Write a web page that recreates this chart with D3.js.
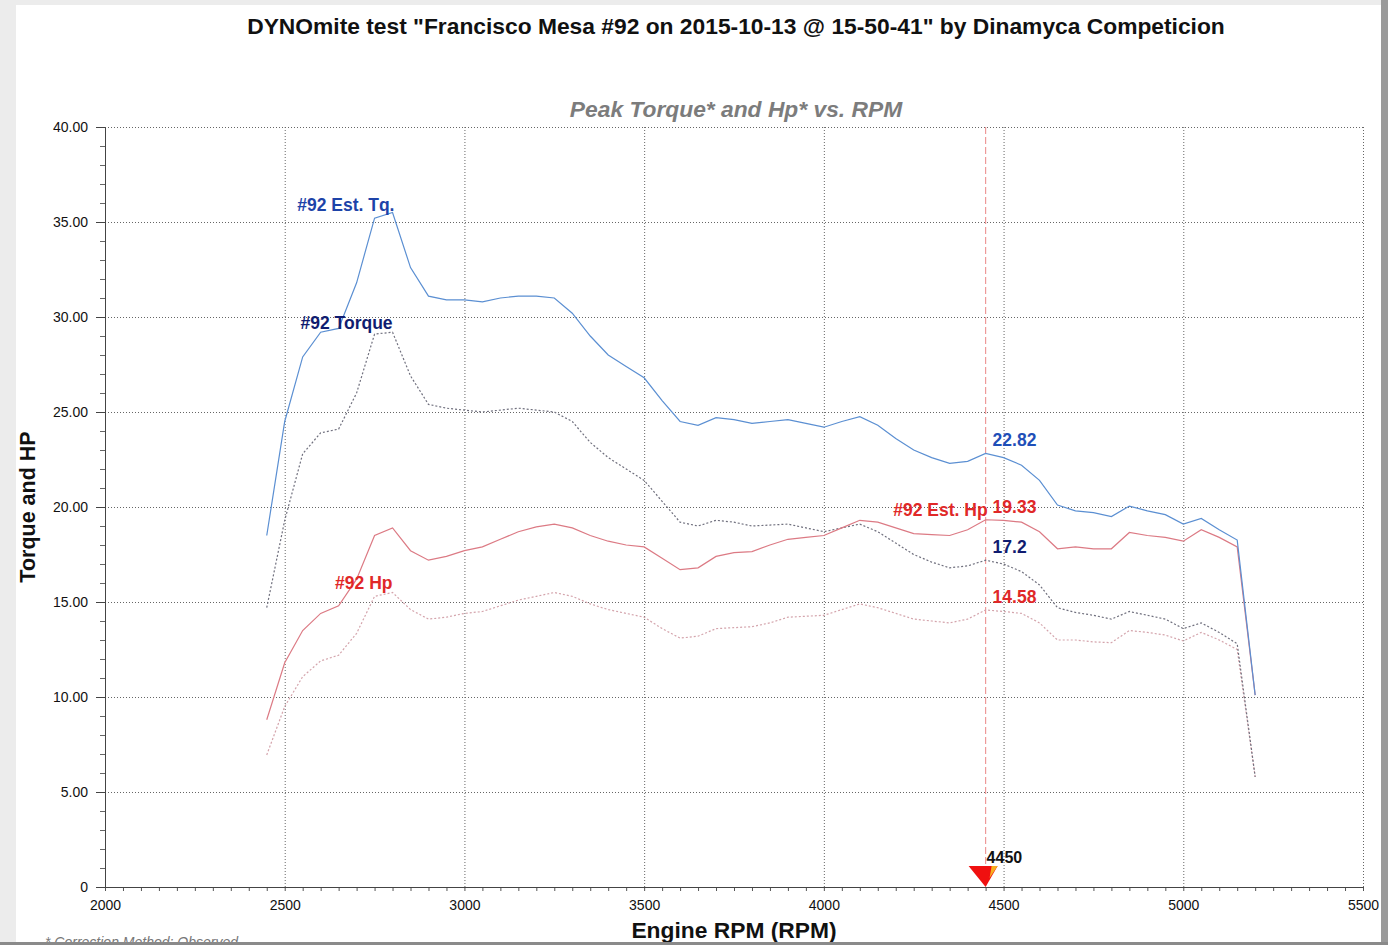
<!DOCTYPE html>
<html>
<head>
<meta charset="utf-8">
<script src="https://cdn.jsdelivr.net/npm/d3@7"></script>
<style>
  html, body { margin: 0; padding: 0; background: #ececec; }
  svg { display: block; font-family: "Liberation Sans", Arial, sans-serif; }
</style>
</head>
<body>
<div id="chart"></div>
<script>
// dyno run, one sample every 50 rpm
var rpm = [2450, 2500, 2550, 2600, 2650, 2700, 2750, 2800, 2850, 2900,
           2950, 3000, 3050, 3100, 3150, 3200, 3250, 3300, 3350, 3400,
           3450, 3500, 3550, 3600, 3650, 3700, 3750, 3800, 3850, 3900,
           3950, 4000, 4050, 4100, 4150, 4200, 4250, 4300, 4350, 4400,
           4450, 4500, 4550, 4600, 4650, 4700, 4750, 4800, 4850, 4900,
           4950, 5000, 5050, 5100, 5150, 5200];

var estTq = [18.5, 24.5, 27.9, 29.2, 29.4, 31.8, 35.2, 35.5, 32.6, 31.1,
             30.9, 30.9, 30.8, 31.0, 31.1, 31.1, 31.0, 30.2, 29.0, 28.0,
             27.4, 26.8, 25.6, 24.5, 24.3, 24.7, 24.6, 24.4, 24.5, 24.6,
             24.4, 24.2, 24.5, 24.75, 24.3, 23.6, 23.0, 22.6, 22.3, 22.4,
             22.82, 22.6, 22.2, 21.4, 20.1, 19.8, 19.7, 19.5, 20.05, 19.8,
             19.6, 19.1, 19.4, 18.8, 18.26, 10.1];

var torque = [14.7, 19.3, 22.8, 23.9, 24.1, 26.0, 29.1, 29.2, 26.9, 25.4,
              25.2, 25.1, 25.0, 25.1, 25.2, 25.1, 25.0, 24.5, 23.4, 22.6,
              22.0, 21.4, 20.3, 19.2, 19.0, 19.3, 19.2, 19.0, 19.05, 19.1,
              18.9, 18.7, 18.9, 19.1, 18.7, 18.1, 17.5, 17.1, 16.8, 16.9,
              17.2, 17.0, 16.6, 15.9, 14.7, 14.45, 14.3, 14.1, 14.5, 14.3,
              14.1, 13.6, 13.9, 13.4, 12.8, 5.8];

var estHp = [8.8, 11.8, 13.5, 14.4, 14.8, 16.2, 18.5, 18.9, 17.7, 17.2,
             17.4, 17.7, 17.9, 18.3, 18.7, 18.95, 19.1, 18.9, 18.5, 18.2,
             18.0, 17.9, 17.3, 16.7, 16.8, 17.4, 17.6, 17.65, 18.0, 18.3,
             18.4, 18.5, 18.9, 19.3, 19.2, 18.9, 18.6, 18.55, 18.5, 18.8,
             19.33, 19.3, 19.2, 18.7, 17.8, 17.9, 17.8, 17.8, 18.66, 18.5,
             18.4, 18.2, 18.8, 18.4, 17.9, 10.1];

var hp = [6.95, 9.5, 11.07, 11.9, 12.2, 13.35, 15.3, 15.5, 14.6, 14.1,
          14.2, 14.4, 14.5, 14.8, 15.1, 15.3, 15.5, 15.3, 14.9, 14.6,
          14.4, 14.2, 13.6, 13.1, 13.2, 13.6, 13.65, 13.7, 13.9, 14.2,
          14.25, 14.3, 14.6, 14.9, 14.7, 14.4, 14.1, 14.0, 13.9, 14.1,
          14.58, 14.5, 14.4, 13.9, 13.0, 13.0, 12.9, 12.86, 13.5, 13.4,
          13.26, 12.95, 13.4, 13.0, 12.5, 5.8];

var xTicks = [2000, 2500, 3000, 3500, 4000, 4500, 5000, 5500];
var yTicks = [0, 5, 10, 15, 20, 25, 30, 35, 40];
var cursorRpm = 4450;
var cursorIdx = rpm.indexOf(cursorRpm);

var W = 1388, H = 945;
var svg = d3.select("#chart").append("svg")
    .attr("width", W).attr("height", H);

// page look: light grey frame around a white sheet
svg.append("rect").attr("x", 0).attr("y", 0).attr("width", W).attr("height", H).attr("fill", "#ececec");
svg.append("rect").attr("x", 16).attr("y", 5).attr("width", 1365).attr("height", 937).attr("fill", "#fff");
svg.append("rect").attr("x", 1381).attr("y", 0).attr("width", 7).attr("height", H).attr("fill", "#9a9a9a");

var x = d3.scaleLinear().domain([2000, 5500]).range([105, 1363]);
var y = d3.scaleLinear().domain([0, 40]).range([887, 127]);

// grid
svg.append("g")
  .attr("transform", "translate(0," + y(0) + ")")
  .call(d3.axisBottom(x).tickValues(xTicks.slice(1)).tickSize(-(y(0) - y(40))).tickFormat(""))
  .call(function(g) {
    g.select(".domain").remove();
    g.selectAll("line").attr("stroke", "#666").attr("stroke-dasharray", "1,2");
  });
svg.append("g")
  .attr("transform", "translate(" + x(2000) + ",0)")
  .call(d3.axisLeft(y).tickValues(yTicks.slice(1)).tickSize(-(x(5500) - x(2000))).tickFormat(""))
  .call(function(g) {
    g.select(".domain").remove();
    g.selectAll("line").attr("stroke", "#666").attr("stroke-dasharray", "1,2");
  });

// minor ticks
var xMinor = d3.range(2000, 5501, 50);
svg.append("g")
  .attr("transform", "translate(0," + y(0) + ")")
  .call(d3.axisBottom(x).tickValues(xMinor).tickSize(4).tickFormat(""))
  .call(function(g) {
    g.select(".domain").remove();
    g.selectAll("line").attr("stroke", "#555");
  });
var yMinor = d3.range(0, 40.01, 1);
svg.append("g")
  .attr("transform", "translate(" + x(2000) + ",0)")
  .call(d3.axisLeft(y).tickValues(yMinor).tickSize(5).tickFormat(""))
  .call(function(g) {
    g.select(".domain").remove();
    g.selectAll("line").attr("stroke", "#666");
  });

// main axes
svg.append("g")
  .attr("transform", "translate(0," + y(0) + ")")
  .call(d3.axisBottom(x).tickValues(xTicks).tickSize(0).tickPadding(13).tickFormat(d3.format("d")))
  .call(function(g) {
    g.select(".domain").attr("stroke", "#444");
    g.selectAll("text").attr("font-size", 14).attr("fill", "#111")
      .attr("font-family", "Liberation Sans, Arial, sans-serif");
  });
svg.append("g")
  .attr("transform", "translate(" + x(2000) + ",0)")
  .call(d3.axisLeft(y).tickValues(yTicks).tickSize(9).tickPadding(8)
    .tickFormat(function(d) { return d === 0 ? "0" : d3.format(".2f")(d); }))
  .call(function(g) {
    g.select(".domain").attr("stroke", "#444");
    g.selectAll("line").attr("stroke", "#444");
    g.selectAll("text").attr("font-size", 14).attr("fill", "#111")
      .attr("font-family", "Liberation Sans, Arial, sans-serif");
  });

// cursor line at 4450
svg.append("line")
  .attr("x1", x(cursorRpm)).attr("x2", x(cursorRpm))
  .attr("y1", y(40)).attr("y2", y(0))
  .attr("stroke", "#ee9a9a").attr("stroke-width", 1.2).attr("stroke-dasharray", "7,3");

// curves
var line = d3.line()
  .x(function(d, i) { return x(rpm[i]); })
  .y(function(d) { return y(d); });

svg.append("path").datum(hp).attr("d", line)
  .attr("fill", "none").attr("stroke", "#d4a4ac").attr("stroke-width", 1.2).attr("stroke-dasharray", "2,2");
svg.append("path").datum(torque).attr("d", line)
  .attr("fill", "none").attr("stroke", "#70707e").attr("stroke-width", 1.2).attr("stroke-dasharray", "2,2");
svg.append("path").datum(estHp).attr("d", line)
  .attr("fill", "none").attr("stroke", "#dc7a84").attr("stroke-width", 1.2);
svg.append("path").datum(estTq).attr("d", line)
  .attr("fill", "none").attr("stroke", "#5b8fd2").attr("stroke-width", 1.2);

// cursor marker
var cx = x(cursorRpm), cy = y(0);
svg.append("path")
  .attr("d", "M" + (cx - 17) + "," + (cy - 21) + "L" + (cx + 12) + "," + (cy - 21) + "L" + cx + "," + cy + "Z")
  .attr("fill", "#f01010");
svg.append("path")
  .attr("d", "M" + (cx + 6) + "," + (cy - 21) + "L" + (cx + 12) + "," + (cy - 21) + "L" + (cx + 4) + "," + (cy - 9) + "Z")
  .attr("fill", "#f7b020");
svg.append("text").attr("x", cx + 1).attr("y", cy - 24)
  .attr("font-size", 16).attr("font-weight", "bold").attr("fill", "#111")
  .text(cursorRpm);

// series labels
var lab = svg.append("g").attr("font-weight", "bold").attr("font-size", 17.5);
lab.append("text").attr("x", x(2670)).attr("y", y(35.3) - 5).attr("text-anchor", "middle")
  .attr("fill", "#1d43a8").text("#92 Est. Tq.");
lab.append("text").attr("x", x(2672)).attr("y", y(29.2) - 3).attr("text-anchor", "middle")
  .attr("fill", "#101c70").text("#92 Torque");
lab.append("text").attr("x", cx + 2).attr("y", y(estHp[cursorIdx]) - 4).attr("text-anchor", "end")
  .attr("fill", "#e02828").text("#92 Est. Hp");
lab.append("text").attr("x", x(2720)).attr("y", y(15.6) - 2).attr("text-anchor", "middle")
  .attr("fill", "#e02828").text("#92 Hp");

// values at cursor
lab.append("text").attr("x", cx + 7).attr("y", y(estTq[cursorIdx]) - 7)
  .attr("fill", "#1f4fb8").text(estTq[cursorIdx].toFixed(2));
lab.append("text").attr("x", cx + 7).attr("y", y(estHp[cursorIdx]) - 7)
  .attr("fill", "#e02828").text(estHp[cursorIdx].toFixed(2));
lab.append("text").attr("x", cx + 7).attr("y", y(torque[cursorIdx]) - 7)
  .attr("fill", "#101c70").text(torque[cursorIdx]);
lab.append("text").attr("x", cx + 7).attr("y", y(hp[cursorIdx]) - 7)
  .attr("fill", "#e02828").text(hp[cursorIdx].toFixed(2));

// titles
svg.append("text").attr("x", 736).attr("y", 34).attr("text-anchor", "middle")
  .attr("font-size", 22.8).attr("font-weight", "bold").attr("fill", "#111")
  .text("DYNOmite test \"Francisco Mesa #92 on 2015-10-13 @ 15-50-41\" by Dinamyca Competicion");
svg.append("text").attr("x", 736).attr("y", 117).attr("text-anchor", "middle")
  .attr("font-size", 22.8).attr("font-weight", "bold").attr("font-style", "italic").attr("fill", "#7c7c7c")
  .text("Peak Torque* and Hp* vs. RPM");
svg.append("text").attr("transform", "translate(35,507) rotate(-90)").attr("text-anchor", "middle")
  .attr("font-size", 21.5).attr("font-weight", "bold").attr("fill", "#111")
  .text("Torque and HP");
svg.append("text").attr("x", 734).attr("y", 938).attr("text-anchor", "middle")
  .attr("font-size", 22.8).attr("font-weight", "bold").attr("fill", "#111")
  .text("Engine RPM (RPM)");
svg.append("text").attr("x", 45).attr("y", 947)
  .attr("font-size", 14).attr("font-style", "italic").attr("fill", "#777")
  .text("* Correction Method: Observed");
svg.append("rect").attr("x", 0).attr("y", 942).attr("width", W).attr("height", 3).attr("fill", "#8a8a8a");
</script>
</body>
</html>
